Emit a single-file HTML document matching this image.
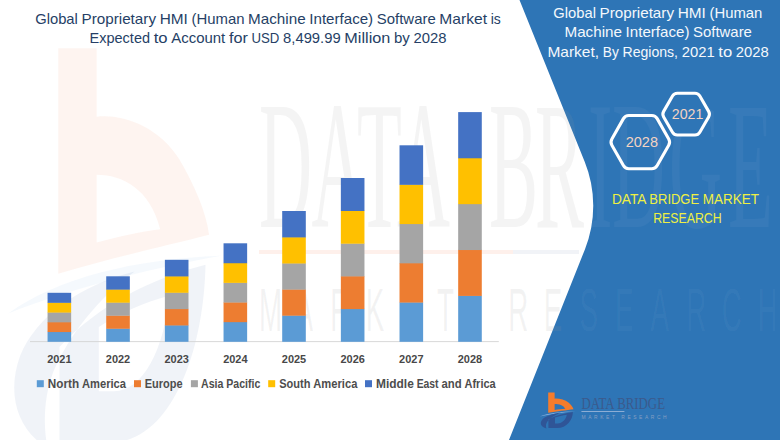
<!DOCTYPE html>
<html lang="en"><head><meta charset="utf-8">
<title>Global Proprietary HMI (Human Machine Interface) Software Market</title>
<style>
html,body{margin:0;padding:0;background:#fff;}
body{width:780px;height:440px;overflow:hidden;}
svg{display:block;}
text{font-family:"Liberation Sans",sans-serif;}
.serif{font-family:"Liberation Serif",serif;}
</style></head><body>
<svg width="780" height="440" viewBox="0 0 780 440">
<rect width="780" height="440" fill="#ffffff"/>
<g id="wm-logo" transform="translate(58.3,48.3) scale(5.96,11.1) translate(-548.2,-392.5)">
<path d="M548.2,392.5 H554.64 V398.66 C559,398.4 565,399.5 568.5,402.5 C571,404.8 573,407.2 573.5,409.3 C567,410.2 557,411.4 548.2,412.8 Z M554.64,403.9 C559,403.9 563.6,405.2 565.3,408.8 C562,409 558,409.5 554.64,410 Z" fill="#F26B3A" fill-rule="evenodd" opacity="0.075"/>
<path d="M539.8,416.4 C548,413.2 561,411.5 575.5,411.2 C562,412.5 549,414.4 539.8,416.4 Z" fill="#5B9BD5" opacity="0.06"/>
<path d="M548.4,419.4 C555,415.6 564,413.2 572.9,412 C572.6,420 567,428 557,428 H548.4 Z M555,417.6 C558.5,416.4 562.5,415.4 566.8,414.8 C566,419.5 562.5,423.4 557.5,423.4 H555 Z M561,412.6 C552,413.8 544.5,416.6 541.8,420.2 C539.6,423.4 541,426.8 546.4,428.5 C545.6,426.4 545.8,423.8 547.4,421.6 C550,418.4 554.5,415.2 561,412.6 Z" fill="#2F5597" fill-rule="evenodd" opacity="0.07"/>
</g>
<path id="panel" d="M519.5,0 L584.7,161.7 A118,118 0 0 1 584.9,249.4 L509,440 H780 V0 Z" fill="#2E75B6"/>
<g id="wm-text">
<text class="serif" transform="translate(0,227) scale(0.735,1.82)" font-size="100"><tspan x="352.4 423.8 485.7 540.1 632.7 665.3 727.9" fill="#9C9C9C" fill-opacity="0.11">DATA BR</tspan><tspan x="800.0 832.7 910.2 990.5" fill="#ffffff" fill-opacity="0.045">IDGE</tspan></text>
<text transform="scale(1,2.22)" y="149.10" font-size="27.7"><tspan x="259.0 294.6 330.2 365.8 401.4 437.0 472.6 508.2 543.8" fill="#9C9C9C" fill-opacity="0.125">MARKET RE</tspan><tspan x="579.4 615.0 650.6 686.2 721.8 757.4" fill="#ffffff" fill-opacity="0.04">SEARCH</tspan></text>
<rect x="259" y="250" width="254" height="4" fill="#F26B3A" opacity="0.10"/>
<rect x="513" y="250" width="66" height="4" fill="#8FA3BF" opacity="0.13"/>
</g>
<rect x="30" y="341.2" width="468.8" height="0.9" fill="#D4D4D4"/>
<rect x="47.56" y="331.76" width="23.6" height="10.04" fill="#5B9BD5"/>
<rect x="47.56" y="322.02" width="23.6" height="10.04" fill="#ED7D31"/>
<rect x="47.56" y="312.28" width="23.6" height="10.04" fill="#A5A5A5"/>
<rect x="47.56" y="302.54" width="23.6" height="10.04" fill="#FFC000"/>
<rect x="47.56" y="292.80" width="23.6" height="10.04" fill="#4472C4"/>
<rect x="106.22" y="328.46" width="23.6" height="13.34" fill="#5B9BD5"/>
<rect x="106.22" y="315.42" width="23.6" height="13.34" fill="#ED7D31"/>
<rect x="106.22" y="302.38" width="23.6" height="13.34" fill="#A5A5A5"/>
<rect x="106.22" y="289.34" width="23.6" height="13.34" fill="#FFC000"/>
<rect x="106.22" y="276.30" width="23.6" height="13.34" fill="#4472C4"/>
<rect x="164.88" y="325.16" width="23.6" height="16.64" fill="#5B9BD5"/>
<rect x="164.88" y="308.82" width="23.6" height="16.64" fill="#ED7D31"/>
<rect x="164.88" y="292.48" width="23.6" height="16.64" fill="#A5A5A5"/>
<rect x="164.88" y="276.14" width="23.6" height="16.64" fill="#FFC000"/>
<rect x="164.88" y="259.80" width="23.6" height="16.64" fill="#4472C4"/>
<rect x="223.54" y="321.86" width="23.6" height="19.94" fill="#5B9BD5"/>
<rect x="223.54" y="302.22" width="23.6" height="19.94" fill="#ED7D31"/>
<rect x="223.54" y="282.58" width="23.6" height="19.94" fill="#A5A5A5"/>
<rect x="223.54" y="262.94" width="23.6" height="19.94" fill="#FFC000"/>
<rect x="223.54" y="243.30" width="23.6" height="19.94" fill="#4472C4"/>
<rect x="282.20" y="315.40" width="23.6" height="26.40" fill="#5B9BD5"/>
<rect x="282.20" y="289.30" width="23.6" height="26.40" fill="#ED7D31"/>
<rect x="282.20" y="263.20" width="23.6" height="26.40" fill="#A5A5A5"/>
<rect x="282.20" y="237.10" width="23.6" height="26.40" fill="#FFC000"/>
<rect x="282.20" y="211.00" width="23.6" height="26.40" fill="#4472C4"/>
<rect x="340.86" y="308.80" width="23.6" height="33.00" fill="#5B9BD5"/>
<rect x="340.86" y="276.10" width="23.6" height="33.00" fill="#ED7D31"/>
<rect x="340.86" y="243.40" width="23.6" height="33.00" fill="#A5A5A5"/>
<rect x="340.86" y="210.70" width="23.6" height="33.00" fill="#FFC000"/>
<rect x="340.86" y="178.00" width="23.6" height="33.00" fill="#4472C4"/>
<rect x="399.52" y="302.26" width="23.6" height="39.54" fill="#5B9BD5"/>
<rect x="399.52" y="263.02" width="23.6" height="39.54" fill="#ED7D31"/>
<rect x="399.52" y="223.78" width="23.6" height="39.54" fill="#A5A5A5"/>
<rect x="399.52" y="184.54" width="23.6" height="39.54" fill="#FFC000"/>
<rect x="399.52" y="145.30" width="23.6" height="39.54" fill="#4472C4"/>
<rect x="458.18" y="295.62" width="23.6" height="46.18" fill="#5B9BD5"/>
<rect x="458.18" y="249.74" width="23.6" height="46.18" fill="#ED7D31"/>
<rect x="458.18" y="203.86" width="23.6" height="46.18" fill="#A5A5A5"/>
<rect x="458.18" y="157.98" width="23.6" height="46.18" fill="#FFC000"/>
<rect x="458.18" y="112.10" width="23.6" height="46.18" fill="#4472C4"/>
<text x="59.36" y="362.6" font-size="11.3" font-weight="bold" fill="#484848" text-anchor="middle" textLength="24.4" lengthAdjust="spacingAndGlyphs">2021</text>
<text x="118.02" y="362.6" font-size="11.3" font-weight="bold" fill="#484848" text-anchor="middle" textLength="24.4" lengthAdjust="spacingAndGlyphs">2022</text>
<text x="176.68" y="362.6" font-size="11.3" font-weight="bold" fill="#484848" text-anchor="middle" textLength="24.4" lengthAdjust="spacingAndGlyphs">2023</text>
<text x="235.34" y="362.6" font-size="11.3" font-weight="bold" fill="#484848" text-anchor="middle" textLength="24.4" lengthAdjust="spacingAndGlyphs">2024</text>
<text x="294.00" y="362.6" font-size="11.3" font-weight="bold" fill="#484848" text-anchor="middle" textLength="24.4" lengthAdjust="spacingAndGlyphs">2025</text>
<text x="352.66" y="362.6" font-size="11.3" font-weight="bold" fill="#484848" text-anchor="middle" textLength="24.4" lengthAdjust="spacingAndGlyphs">2026</text>
<text x="411.32" y="362.6" font-size="11.3" font-weight="bold" fill="#484848" text-anchor="middle" textLength="24.4" lengthAdjust="spacingAndGlyphs">2027</text>
<text x="469.98" y="362.6" font-size="11.3" font-weight="bold" fill="#484848" text-anchor="middle" textLength="24.4" lengthAdjust="spacingAndGlyphs">2028</text>
<rect x="36.8" y="380.2" width="7" height="7" fill="#5B9BD5"/>
<text y="387.6" font-size="12.0" fill="#4D4D4D" font-weight="bold" ><tspan x="47.80" textLength="31.28" lengthAdjust="spacingAndGlyphs">North</tspan> <tspan x="81.97" textLength="44.08" lengthAdjust="spacingAndGlyphs">America</tspan></text>
<rect x="134.0" y="380.2" width="7" height="7" fill="#ED7D31"/>
<text y="387.6" font-size="12.0" fill="#4D4D4D" font-weight="bold" ><tspan x="144.80" textLength="37.84" lengthAdjust="spacingAndGlyphs">Europe</tspan></text>
<rect x="190.9" y="380.2" width="7" height="7" fill="#A5A5A5"/>
<text y="387.6" font-size="12.0" fill="#4D4D4D" font-weight="bold" ><tspan x="201.00" textLength="22.41" lengthAdjust="spacingAndGlyphs">Asia</tspan> <tspan x="226.30" textLength="33.97" lengthAdjust="spacingAndGlyphs">Pacific</tspan></text>
<rect x="268.2" y="380.2" width="7" height="7" fill="#FFC000"/>
<text y="387.6" font-size="12.0" fill="#4D4D4D" font-weight="bold" ><tspan x="279.20" textLength="31.22" lengthAdjust="spacingAndGlyphs">South</tspan> <tspan x="313.31" textLength="44.08" lengthAdjust="spacingAndGlyphs">America</tspan></text>
<rect x="365.0" y="380.2" width="7" height="7" fill="#4472C4"/>
<text y="387.6" font-size="12.0" fill="#4D4D4D" font-weight="bold" ><tspan x="376.00" textLength="37.80" lengthAdjust="spacingAndGlyphs">Middle</tspan> <tspan x="416.69" textLength="21.88" lengthAdjust="spacingAndGlyphs">East</tspan> <tspan x="441.45" textLength="20.14" lengthAdjust="spacingAndGlyphs">and</tspan> <tspan x="464.48" textLength="31.22" lengthAdjust="spacingAndGlyphs">Africa</tspan></text>
<text y="23.6" font-size="15.0" fill="#263F66" font-weight="normal" ><tspan x="35.20" textLength="42.66" lengthAdjust="spacingAndGlyphs">Global</tspan> <tspan x="81.51" textLength="74.52" lengthAdjust="spacingAndGlyphs">Proprietary</tspan> <tspan x="159.68" textLength="28.16" lengthAdjust="spacingAndGlyphs">HMI</tspan> <tspan x="191.50" textLength="52.97" lengthAdjust="spacingAndGlyphs">(Human</tspan> <tspan x="248.12" textLength="57.52" lengthAdjust="spacingAndGlyphs">Machine</tspan> <tspan x="309.29" textLength="63.89" lengthAdjust="spacingAndGlyphs">Interface)</tspan> <tspan x="376.84" textLength="58.88" lengthAdjust="spacingAndGlyphs">Software</tspan> <tspan x="439.37" textLength="47.70" lengthAdjust="spacingAndGlyphs">Market</tspan> <tspan x="490.75" textLength="10.11" lengthAdjust="spacingAndGlyphs">is</tspan></text>
<text y="43.15" font-size="15.0" fill="#263F66" font-weight="normal" ><tspan x="89.60" textLength="60.42" lengthAdjust="spacingAndGlyphs">Expected</tspan> <tspan x="153.68" textLength="13.89" lengthAdjust="spacingAndGlyphs">to</tspan> <tspan x="171.23" textLength="54.02" lengthAdjust="spacingAndGlyphs">Account</tspan> <tspan x="228.91" textLength="18.88" lengthAdjust="spacingAndGlyphs">for</tspan> <tspan x="251.46" textLength="27.92" lengthAdjust="spacingAndGlyphs">USD</tspan> <tspan x="283.05" textLength="57.64" lengthAdjust="spacingAndGlyphs">8,499.99</tspan> <tspan x="344.35" textLength="45.98" lengthAdjust="spacingAndGlyphs">Million</tspan> <tspan x="393.99" textLength="15.84" lengthAdjust="spacingAndGlyphs">by</tspan> <tspan x="413.49" textLength="33.00" lengthAdjust="spacingAndGlyphs">2028</tspan></text>
<text y="18.3" font-size="15.0" fill="#F4F8FC" font-weight="normal" ><tspan x="553.30" textLength="42.61" lengthAdjust="spacingAndGlyphs">Global</tspan> <tspan x="599.57" textLength="74.44" lengthAdjust="spacingAndGlyphs">Proprietary</tspan> <tspan x="677.66" textLength="28.14" lengthAdjust="spacingAndGlyphs">HMI</tspan> <tspan x="709.46" textLength="52.91" lengthAdjust="spacingAndGlyphs">(Human</tspan></text>
<text y="37.4" font-size="15.0" fill="#F4F8FC" font-weight="normal" ><tspan x="564.50" textLength="57.45" lengthAdjust="spacingAndGlyphs">Machine</tspan> <tspan x="625.61" textLength="63.81" lengthAdjust="spacingAndGlyphs">Interface)</tspan> <tspan x="693.09" textLength="58.81" lengthAdjust="spacingAndGlyphs">Software</tspan></text>
<text y="56.5" font-size="15.0" fill="#F4F8FC" font-weight="normal" ><tspan x="547.40" textLength="51.70" lengthAdjust="spacingAndGlyphs">Market,</tspan> <tspan x="602.78" textLength="16.05" lengthAdjust="spacingAndGlyphs">By</tspan> <tspan x="622.48" textLength="55.53" lengthAdjust="spacingAndGlyphs">Regions,</tspan> <tspan x="681.67" textLength="32.97" lengthAdjust="spacingAndGlyphs">2021</tspan> <tspan x="718.29" textLength="13.86" lengthAdjust="spacingAndGlyphs">to</tspan> <tspan x="735.82" textLength="32.95" lengthAdjust="spacingAndGlyphs">2028</tspan></text>
<path d="M611.88,145.23 L611.88,145.23 Q610.10,142.10 611.88,138.97 L623.42,118.63 Q625.20,115.50 628.80,115.50 L651.80,115.50 Q655.40,115.50 657.18,118.63 L668.72,138.97 Q670.50,142.10 668.72,145.23 L657.18,165.57 Q655.40,168.70 651.80,168.70 L628.80,168.70 Q625.20,168.70 623.42,165.57 Z" fill="none" stroke="#ffffff" stroke-width="3.1" stroke-linejoin="round"/>
<path d="M663.65,116.92 L663.65,116.92 Q662.05,114.15 663.65,111.38 L672.50,96.07 Q674.10,93.30 677.30,93.30 L695.00,93.30 Q698.20,93.30 699.80,96.07 L708.65,111.38 Q710.25,114.15 708.65,116.92 L699.80,132.23 Q698.20,135.00 695.00,135.00 L677.30,135.00 Q674.10,135.00 672.50,132.23 Z" fill="#2E75B6" stroke="#ffffff" stroke-width="3.1" stroke-linejoin="round"/>
<text x="625.7" y="147.4" font-size="15.1" fill="#F3D3C3" textLength="32.3" lengthAdjust="spacingAndGlyphs">2028</text>
<text x="671.8" y="118.8" font-size="15.1" fill="#F3D3C3" textLength="31.5" lengthAdjust="spacingAndGlyphs">2021</text>
<text y="203.6" font-size="15.1" fill="#EEF044" font-weight="normal" ><tspan x="611.90" textLength="33.81" lengthAdjust="spacingAndGlyphs">DATA</tspan> <tspan x="649.37" textLength="49.77" lengthAdjust="spacingAndGlyphs">BRIDGE</tspan> <tspan x="702.78" textLength="56.20" lengthAdjust="spacingAndGlyphs">MARKET</tspan></text>
<text y="223.0" font-size="15.1" fill="#EEF044" font-weight="normal" ><tspan x="653.20" textLength="68.44" lengthAdjust="spacingAndGlyphs">RESEARCH</tspan></text>
<g id="logo">
<path d="M548.2,392.5 H554.64 V398.66 C559,398.4 565,399.5 568.5,402.5 C571,404.8 573,407.2 573.5,409.3 C567,410.2 557,411.4 548.2,412.8 Z M554.64,403.9 C559,403.9 563.6,405.2 565.3,408.8 C562,409 558,409.5 554.64,410 Z" fill="#F47C2C" fill-rule="evenodd"/>
<path d="M539.8,416.4 C548,413.2 561,411.5 575.5,411.2 C562,412.5 549,414.4 539.8,416.4 Z" fill="#86AEDD"/>
<path d="M548.4,419.4 C555,415.6 564,413.2 572.9,412 C572.6,420 567,428 557,428 H548.4 Z M555,417.6 C558.5,416.4 562.5,415.4 566.8,414.8 C566,419.5 562.5,423.4 557.5,423.4 H555 Z M561,412.6 C552,413.8 544.5,416.6 541.8,420.2 C539.6,423.4 541,426.8 546.4,428.5 C545.6,426.4 545.8,423.8 547.4,421.6 C550,418.4 554.5,415.2 561,412.6 Z" fill="#2F5597" fill-rule="evenodd"/>
<text class="serif" x="581.4" y="409.3" font-size="17.2" fill="#3B5A8D" textLength="83.6" lengthAdjust="spacingAndGlyphs">DATA BRIDGE</text>
<rect x="581.4" y="411.0" width="43" height="0.8" fill="#A4BCDC"/>
<text x="581.6" y="418.7" font-size="4.9" fill="#869FC2" textLength="85" lengthAdjust="spacing">MARKET RESEARCH</text>
</g>
</svg></body></html>
